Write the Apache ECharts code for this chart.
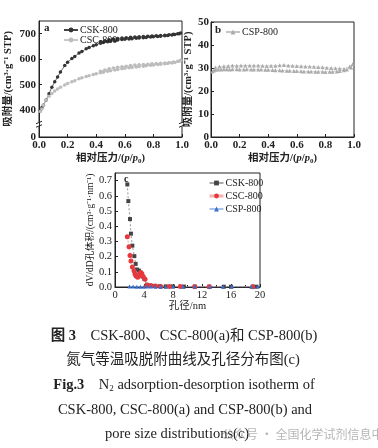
<!DOCTYPE html>
<html>
<head>
<meta charset="utf-8">
<script src="https://cdn.jsdelivr.net/npm/echarts@6/dist/echarts.min.js"></script>
<style>
  html, body { margin: 0; padding: 0; background: #fff; }
  #main { width: 378px; height: 448px; }
</style>
</head>
<body>
<div id="main"></div>
<script>
// relative pressure p/p0, adsorption and desorption branches
var pAds = [0.01, 0.02, 0.03, 0.05, 0.07, 0.09, 0.11, 0.13, 0.15, 0.18, 0.20, 0.23, 0.25, 0.28, 0.30, 0.33, 0.35, 0.38, 0.40, 0.43, 0.45,
  0.48, 0.50, 0.53, 0.55, 0.58, 0.60, 0.63, 0.65, 0.68, 0.70, 0.73, 0.75, 0.78, 0.80, 0.83, 0.85, 0.88, 0.90, 0.93, 0.95, 0.98, 0.99];
var pDes = [0.97, 0.94, 0.91, 0.88, 0.85, 0.82, 0.79, 0.76, 0.73, 0.70, 0.67, 0.64, 0.61, 0.58, 0.55, 0.52, 0.49, 0.46, 0.43];
var pDesB = [0.97, 0.93, 0.90, 0.87, 0.84, 0.81, 0.78, 0.75, 0.72, 0.69, 0.66, 0.63, 0.60, 0.57, 0.54, 0.51, 0.48, 0.45, 0.42,
  0.39, 0.36, 0.33, 0.30, 0.27, 0.24, 0.21, 0.18, 0.15, 0.12, 0.09, 0.06, 0.03];

var cskAds = [398, 410, 420, 440, 465, 490, 512, 530, 550, 575, 588, 603, 611, 624, 630, 641, 646, 653, 657, 663, 666,
  669, 671, 673, 675, 677, 678, 679, 680, 682, 683, 684, 685, 687, 688, 689, 690, 692, 693, 695, 697, 700, 703];
var cskDes = [700, 698, 696, 694, 693, 692, 691, 690, 689, 688, 687, 686, 684, 683, 681, 679, 676, 672, 668];
var cscAds = [395, 405, 420, 440, 455, 466, 475, 483, 490, 499, 505, 512, 516, 523, 527, 532, 535, 540, 543, 547, 549,
  553, 555, 558, 560, 563, 565, 567, 568, 570, 572, 573, 574, 576, 577, 579, 580, 582, 583, 585, 587, 592, 596];
var cscDes = [592, 589, 587, 585, 584, 583, 582, 580, 579, 578, 577, 575, 573, 571, 569, 566, 563, 558, 553];
var cspAds = [28.5, 28.9, 29.2, 29.4, 29.4, 29.5, 29.5, 29.4, 29.5, 29.5, 29.4, 29.4, 29.5, 29.4, 29.4, 29.3, 29.3, 29.2, 29.2, 29.1, 29.0,
  29.0, 28.9, 28.8, 28.8, 28.7, 28.7, 28.6, 28.5, 28.5, 28.5, 28.4, 28.4, 28.4, 28.3, 28.4, 28.4, 28.5, 28.7, 29.0, 29.3, 30.2, 31.6];
var cspDes = [30.6, 29.6, 29.8, 29.9, 30.0, 30.1, 30.3, 30.4, 30.5, 30.6, 30.7, 30.8, 30.9, 31.0, 31.1, 31.3, 31.2, 31.0, 31.0,
  30.9, 31.0, 31.1, 31.1, 31.1, 31.1, 31.1, 31.0, 31.1, 30.9, 30.8, 30.6, 30.2];

// pore size distribution (pore diameter nm, dV/dD)
var cskD = [1.70, 1.84, 2.07, 2.20, 2.39, 2.67, 2.85, 3.03, 3.30, 3.54, 3.77, 4.05, 4.40, 4.80, 5.40, 6.20, 7.00, 8.00, 9.50, 11.0, 13.0, 15.0, 16.0, 19.0, 19.5];
var cskV = [0.675, 0.565, 0.447, 0.351, 0.272, 0.203, 0.152, 0.115, 0.108, 0.094, 0.070, 0.053, 0.015, 0.010, 0.007, 0.005, 0.004, 0.004, 0.003, 0.003, 0.002, 0.002, 0.002, 0.002, 0.002];
var cscD = [1.70, 1.93, 2.07, 2.20, 2.39, 2.62, 2.76, 2.90, 3.13, 3.31, 3.54, 3.70, 3.90, 4.14, 4.40, 4.60, 5.00, 5.60, 6.30, 7.50, 9.0, 11.0, 13.0, 19.0];
var cscV = [0.331, 0.265, 0.207, 0.171, 0.132, 0.107, 0.085, 0.073, 0.064, 0.079, 0.095, 0.088, 0.068, 0.051, 0.012, 0.010, 0.008, 0.006, 0.004, 0.003, 0.003, 0.002, 0.002, 0.002];
var cspD = [2.0, 2.5, 3.0, 3.5, 4.0, 4.5, 5.0, 5.6, 6.3, 7.0, 8.0, 9.4, 11.0, 13.1, 14.9, 16.1, 18.8, 19.7];
var cspV = [0.003, 0.003, 0.002, 0.002, 0.002, 0.003, 0.003, 0.002, 0.002, 0.002, 0.004, 0.002, 0.003, 0.002, 0.002, 0.003, 0.002, 0.003];

var yTicksA = [400, 500, 600, 700];
var yMinA = 295; // shown as "0" below the axis break

var SERIF = '"Liberation Serif", "Noto Sans CJK SC", serif';
var INK = '#222';

function pairs(xs, ys) {
  return xs.map(function (x, i) { return [x, ys[i]]; });
}
function isotherm(pa, ya, pd, yd) {
  return pairs(pa, ya).concat(pairs(pd, yd));
}

var chartDom = document.getElementById('main');
var myChart = echarts.init(chartDom);

function xAxisP(gi) {
  return {
    type: 'value', gridIndex: gi, min: 0, max: 1, interval: 0.2,
    name: '相对压力/({i|p}/{i|p}{sub|0})', nameLocation: 'middle', nameGap: 15,
    nameTextStyle: {
      fontFamily: SERIF, fontSize: 10.5, fontWeight: 'bold', color: INK,
      rich: {
        i: { fontFamily: SERIF, fontSize: 10.5, fontStyle: 'italic', fontWeight: 'bold', color: INK },
        sub: { fontFamily: SERIF, fontSize: 7, fontWeight: 'bold', verticalAlign: 'bottom', padding: [6, 0, 0, 0], color: INK }
      }
    },
    axisLine: { lineStyle: { color: INK, width: 1 } },
    axisTick: { inside: true, length: 3, lineStyle: { color: INK } },
    axisLabel: { fontFamily: SERIF, fontSize: 11, fontWeight: 'bold', color: INK, margin: 3,
      formatter: function (v) { return v.toFixed(1); } },
    splitLine: { show: false }
  };
}

var yNameA = '吸附量/(cm³·g⁻¹ STP)';

var option = {
  animation: false,
  backgroundColor: '#fff',
  grid: [
    { left: 39, top: 21, width: 143, height: 116, show: true, borderColor: INK, borderWidth: 1 },
    { left: 211, top: 22, width: 143, height: 115, show: true, borderColor: INK, borderWidth: 1 },
    { left: 115, top: 173, width: 145, height: 114, show: true, borderColor: INK, borderWidth: 1 }
  ],
  xAxis: [
    xAxisP(0),
    xAxisP(1),
    {
      type: 'value', gridIndex: 2, min: 0, max: 20, interval: 4,
      name: '孔径/nm', nameLocation: 'middle', nameGap: 12,
      nameTextStyle: { fontFamily: SERIF, fontSize: 10.5, color: INK },
      axisLine: { lineStyle: { color: INK, width: 1 } },
      axisTick: { inside: true, length: 3, lineStyle: { color: INK } },
      minorTick: { show: true, splitNumber: 2, length: 2, lineStyle: { color: INK } },
      axisLabel: { fontFamily: SERIF, fontSize: 10.5, color: INK, margin: 3 },
      splitLine: { show: false }
    }
  ],
  yAxis: [
    {
      type: 'value', gridIndex: 0, min: yMinA, max: 750,
      name: yNameA, nameLocation: 'middle', nameGap: 25,
      nameTextStyle: { fontFamily: SERIF, fontSize: 10.5, fontWeight: 'bold', color: INK },
      axisLine: { lineStyle: { color: INK, width: 1 } },
      axisTick: { inside: true, length: 3, lineStyle: { color: INK }, customValues: yTicksA },
      axisLabel: { fontFamily: SERIF, fontSize: 11, fontWeight: 'bold', color: INK, margin: 3,
        customValues: [yMinA].concat(yTicksA),
        formatter: function (v) { return v === yMinA ? '0' : String(v); } },
      splitLine: { show: false }
    },
    {
      type: 'value', gridIndex: 1, min: 0, max: 50, interval: 10,
      name: yNameA, nameLocation: 'middle', nameGap: 17,
      nameTextStyle: { fontFamily: SERIF, fontSize: 10.5, fontWeight: 'bold', color: INK },
      axisLine: { lineStyle: { color: INK, width: 1 } },
      axisTick: { inside: true, length: 3, lineStyle: { color: INK } },
      axisLabel: { fontFamily: SERIF, fontSize: 11, fontWeight: 'bold', color: INK, margin: 2 },
      splitLine: { show: false }
    },
    {
      type: 'value', gridIndex: 2, min: 0, max: 0.75, interval: 0.1,
      name: 'dV/dD孔体积/(cm³·g⁻¹·nm⁻¹)', nameLocation: 'middle', nameGap: 19,
      nameTextStyle: { fontFamily: SERIF, fontSize: 9.5, color: INK },
      axisLine: { lineStyle: { color: INK, width: 1 } },
      axisTick: { inside: true, length: 3, lineStyle: { color: INK } },
      axisLabel: { fontFamily: SERIF, fontSize: 10.5, color: INK, margin: 3, showMaxLabel: false,
        formatter: function (v) { return v.toFixed(1); } },
      splitLine: { show: false }
    }
  ],
  legend: [
    {
      left: 58, top: 20, orient: 'vertical', itemGap: 0, itemWidth: 14, itemHeight: 6,
      data: ['CSK-800', 'CSC-800'],
      textStyle: { fontFamily: SERIF, fontSize: 10, color: INK, padding: [0, 0, 0, -3] }
    },
    {
      left: 220, top: 22, itemWidth: 14, itemHeight: 6,
      data: ['CSP-800'],
      textStyle: { fontFamily: SERIF, fontSize: 10, color: INK, padding: [0, 0, 0, -3] }
    },
    {
      left: 203, top: 173, orient: 'vertical', itemGap: 3, itemWidth: 14, itemHeight: 6,
      data: [
        { name: 'CSK-800 ', lineStyle: { color: '#555', width: 1, type: 'solid' } },
        { name: 'CSC-800 ', lineStyle: { color: '#f6b3b3', width: 3, type: 'solid' } },
        { name: 'CSP-800 ', lineStyle: { color: '#a9c3ec', width: 2, type: 'solid' } }
      ],
      textStyle: { fontFamily: SERIF, fontSize: 10, color: INK, padding: [0, 0, 0, -3] }
    }
  ],
  series: [
    {
      name: 'CSK-800', type: 'line', xAxisIndex: 0, yAxisIndex: 0,
      data: isotherm(pAds, cskAds, pDes, cskDes),
      symbol: 'circle', symbolSize: 3.5, showAllSymbol: true,
      itemStyle: { color: '#333' }, lineStyle: { color: '#444', width: 0.8 }
    },
    {
      name: 'CSC-800', type: 'line', xAxisIndex: 0, yAxisIndex: 0,
      data: isotherm(pAds, cscAds, pDes, cscDes),
      symbol: 'circle', symbolSize: 3.5, showAllSymbol: true,
      itemStyle: { color: '#bdbdbd' }, lineStyle: { color: '#c8c8c8', width: 0.8 }
    },
    {
      name: 'CSP-800', type: 'line', xAxisIndex: 1, yAxisIndex: 1,
      data: isotherm(pAds, cspAds, pDesB, cspDes),
      symbol: 'triangle', symbolSize: 4, showAllSymbol: true,
      itemStyle: { color: '#ababab' }, lineStyle: { color: '#c4c4c4', width: 0.7 }
    },
    {
      name: 'CSK-800 ', type: 'line', xAxisIndex: 2, yAxisIndex: 2,
      data: pairs(cskD, cskV),
      symbol: 'rect', symbolSize: 4, showAllSymbol: true,
      itemStyle: { color: '#444' }, lineStyle: { color: '#777', width: 0.8, type: [2, 2] }
    },
    {
      name: 'CSC-800 ', type: 'line', xAxisIndex: 2, yAxisIndex: 2,
      data: pairs(cscD, cscV),
      symbol: 'circle', symbolSize: 5, showAllSymbol: true,
      itemStyle: { color: '#e5393d' }, lineStyle: { color: '#f08a8a', width: 0.8, type: [2, 2] }
    },
    {
      name: 'CSP-800 ', type: 'line', xAxisIndex: 2, yAxisIndex: 2,
      data: pairs(cspD, cspV),
      symbol: 'triangle', symbolSize: 4, showAllSymbol: true,
      itemStyle: { color: '#3a6fcb' }, lineStyle: { color: '#8fb0e6', width: 0.8, type: [2, 2] }
    }
  ]
};

myChart.setOption(option);

// axis-break marks and panel letters, placed from the axes
function breakMark(x, y) {
  return {
    type: 'group', x: x, y: y, z: 100,
    children: [
      { type: 'rect', shape: { x: -3, y: -2, width: 6, height: 4 }, style: { fill: '#fff' } },
      { type: 'line', shape: { x1: -3, y1: -0.5, x2: 3, y2: -3 }, style: { stroke: INK, lineWidth: 1 } },
      { type: 'line', shape: { x1: -3, y1: 3, x2: 3, y2: 0.5 }, style: { stroke: INK, lineWidth: 1 } }
    ]
  };
}
var brL = myChart.convertToPixel({ gridIndex: 0 }, [0, 345]);
var brR = myChart.convertToPixel({ gridIndex: 0 }, [1, 345]);
var aTL = myChart.convertToPixel({ gridIndex: 0 }, [0, 750]);
var bTL = myChart.convertToPixel({ gridIndex: 1 }, [0, 50]);
var cTL = myChart.convertToPixel({ gridIndex: 2 }, [0, 0.75]);

var capFont = SERIF;
var CAP = 14.5;
myChart.setOption({
  graphic: [
    breakMark(brL[0], brL[1]),
    breakMark(brR[0], brR[1]),
    { type: 'text', x: aTL[0] + 5, y: aTL[1] + 2, style: { text: 'a', font: 'bold 11px ' + SERIF, fill: INK } },
    { type: 'text', x: bTL[0] + 4, y: bTL[1] + 3, style: { text: 'b', font: 'bold 11px ' + SERIF, fill: INK } },
    { type: 'text', x: cTL[0] + 9, y: cTL[1] + 1, style: { text: 'c', font: 'bold 10px ' + SERIF, fill: INK } },
    {
      type: 'text', x: 184, y: 336,
      style: {
        text: '{b|图 3}    CSK-800、CSC-800(a)和 CSP-800(b)',
        align: 'center', verticalAlign: 'middle', font: CAP + 'px ' + capFont, fill: INK,
        rich: { b: { font: 'bold ' + CAP + 'px ' + capFont, fill: INK } }
      }
    },
    {
      type: 'text', x: 183, y: 360,
      style: { text: '氮气等温吸脱附曲线及孔径分布图(c)', align: 'center', verticalAlign: 'middle', font: CAP + 'px ' + capFont, fill: INK }
    },
    {
      type: 'text', x: 184, y: 385,
      style: {
        text: '{b|Fig.3}    N{s|2} adsorption-desorption isotherm of',
        align: 'center', verticalAlign: 'middle', font: CAP + 'px ' + capFont, fill: INK,
        rich: {
          b: { font: 'bold ' + CAP + 'px ' + capFont, fill: INK },
          s: { font: '9px ' + capFont, fill: INK, padding: [8, 0, 0, 0] }
        }
      }
    },
    {
      type: 'text', x: 185, y: 410,
      style: { text: 'CSK-800, CSC-800(a) and CSP-800(b) and', align: 'center', verticalAlign: 'middle', font: CAP + 'px ' + capFont, fill: INK }
    },
    {
      type: 'text', x: 105, y: 434,
      style: { text: 'pore size distributions(c)', align: 'left', verticalAlign: 'middle', font: CAP + 'px ' + capFont, fill: INK }
    },
    {
      type: 'text', x: 222, y: 434,
      style: { text: '公众号 · 全国化学试剂信息中心', align: 'left', verticalAlign: 'middle', font: '12px "Noto Sans CJK SC", sans-serif', fill: 'rgba(150,150,150,0.7)' }
    }
  ]
});
</script>
</body>
</html>
